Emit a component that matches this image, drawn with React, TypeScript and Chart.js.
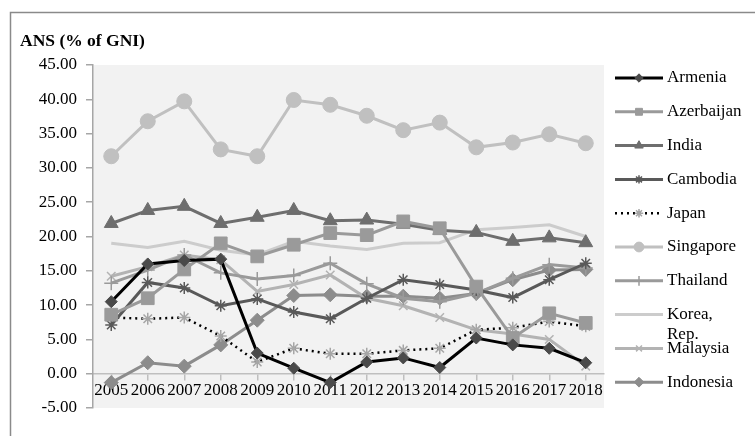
import React, { useEffect, useRef } from "react";
import { Chart, registerables } from "chart.js";
import { drawPoint } from "chart.js/helpers";

Chart.register(...registerables);

const years = ["2005","2006","2007","2008","2009","2010","2011","2012","2013","2014","2015","2016","2017","2018"];
const armenia = [10.5, 16.0, 16.5, 16.7, 3.0, 0.8, -1.3, 1.7, 2.3, 0.9, 5.2, 4.2, 3.7, 1.6];
const azerbaijan = [8.6, 11.0, 15.2, 19.0, 17.1, 18.8, 20.5, 20.2, 22.2, 21.2, 12.7, 5.2, 8.8, 7.4];
const india = [21.9, 23.8, 24.4, 21.9, 22.8, 23.8, 22.3, 22.4, 21.8, 20.9, 20.6, 19.3, 19.8, 19.1];
const cambodia = [7.1, 13.3, 12.5, 9.9, 10.9, 9.0, 8.0, 11.0, 13.7, 13.0, 12.2, 11.1, 13.7, 16.1];
const japan = [8.2, 8.0, 8.2, 5.5, 1.7, 3.7, 2.9, 2.9, 3.4, 3.7, 6.4, 6.7, 7.6, 6.9];
const singapore = [31.7, 36.8, 39.7, 32.7, 31.7, 39.9, 39.2, 37.6, 35.5, 36.6, 33.0, 33.7, 34.9, 33.6];
const thailand = [13.2, 15.1, 17.3, 14.7, 13.8, 14.3, 16.1, 13.1, 11.0, 10.5, 11.7, 13.9, 15.9, 15.4];
const korea = [19.0, 18.4, 19.3, 18.0, 17.3, 19.3, 18.6, 18.1, 19.0, 19.1, 21.0, 21.3, 21.7, 20.0];
const malaysia = [14.2, 15.6, 17.3, 16.6, 12.0, 13.0, 14.4, 11.0, 9.9, 8.2, 6.4, 5.8, 5.0, 1.1];
const indonesia = [-1.3, 1.6, 1.1, 4.2, 7.8, 11.4, 11.5, 11.3, 11.3, 11.0, 11.7, 13.7, 15.1, 15.2];

const yTicks = [-5, 0, 5, 10, 15, 20, 25, 30, 35, 40, 45];
const chartTitle = "ANS (% of GNI)";

const FONT = "'Liberation Serif', 'Times New Roman', serif";

type S = {
  label: string | string[];
  data: number[];
  color: string;
  width: number;
  dash?: number[];
  point: any;
  radius: number;
  pointColor: string;
  pointBorderWidth?: number;
};

const series: S[] = [
  { label: "Armenia", data: armenia, color: "#000000", width: 3, point: "rectRot", radius: 6, pointColor: "#4a4a4a" },
  { label: "Azerbaijan", data: azerbaijan, color: "#9a9a9a", width: 3, point: "rect", radius: 9, pointColor: "#9a9a9a" },
  { label: "India", data: india, color: "#6e6e6e", width: 3, point: "triangle", radius: 8, pointColor: "#6e6e6e" },
  { label: "Cambodia", data: cambodia, color: "#595959", width: 3, point: "star", radius: 6, pointColor: "#595959", pointBorderWidth: 1.5 },
  { label: "Japan", data: japan, color: "#000000", width: 2.5, dash: [2, 4], point: "star", radius: 6, pointColor: "#a6a6a6", pointBorderWidth: 1.5 },
  { label: "Singapore", data: singapore, color: "#c0c0c0", width: 3, point: "circle", radius: 7.5, pointColor: "#c0c0c0" },
  { label: "Thailand", data: thailand, color: "#9a9a9a", width: 3, point: "cross", radius: 7, pointColor: "#9a9a9a", pointBorderWidth: 1.5 },
  { label: ["Korea,", "Rep."], data: korea, color: "#cccccc", width: 3, point: false, radius: 0, pointColor: "#cccccc" },
  { label: "Malaysia", data: malaysia, color: "#b3b3b3", width: 3, point: "crossRot", radius: 6, pointColor: "#b3b3b3", pointBorderWidth: 1.5 },
  { label: "Indonesia", data: indonesia, color: "#8c8c8c", width: 3, point: "rectRot", radius: 7, pointColor: "#8c8c8c" },
];

const decorPlugin = {
  id: "decor",
  beforeDraw(chart: any) {
    const { ctx, chartArea, width, height } = chart;
    ctx.save();
    ctx.fillStyle = "#ffffff";
    ctx.fillRect(0, 0, width, height);
    ctx.strokeStyle = "#8a8a8a";
    ctx.lineWidth = 1.5;
    ctx.beginPath();
    ctx.moveTo(10.5, height);
    ctx.lineTo(10.5, 12.5);
    ctx.lineTo(width, 12.5);
    ctx.stroke();
    ctx.fillStyle = "#f2f2f2";
    ctx.fillRect(chartArea.left, chartArea.top, chartArea.right - chartArea.left, chartArea.bottom - chartArea.top);
    ctx.fillStyle = "#000";
    ctx.font = `bold 17.5px ${FONT}`;
    ctx.textBaseline = "middle";
    ctx.textAlign = "left";
    ctx.fillText(chartTitle, 20, 41);
    ctx.restore();
  },
  afterDraw(chart: any) {
    const { ctx, chartArea } = chart;
    ctx.save();
    const x0 = chartArea.right + 11;
    const x1 = x0 + 48;
    const top = chartArea.top + 13;
    const step = 33.8;
    chart.data.datasets.forEach((ds: any, i: number) => {
      const y = top + i * step;
      ctx.strokeStyle = ds.borderColor;
      ctx.lineWidth = ds.borderWidth;
      ctx.setLineDash(ds.borderDash || []);
      ctx.beginPath();
      ctx.moveTo(x0, y);
      ctx.lineTo(x1, y);
      ctx.stroke();
      ctx.setLineDash([]);
      if (ds.pointStyle) {
        const r = Math.min(ds.pointRadius, 7) * 0.7;
        ctx.fillStyle = ds.pointBackgroundColor;
        ctx.strokeStyle = ds.pointBorderColor;
        ctx.lineWidth = ds.pointBorderWidth || 1;
        drawPoint(ctx, { pointStyle: ds.pointStyle, radius: r, borderWidth: ctx.lineWidth, rotation: 0 } as any, (x0 + x1) / 2, y);
      }
      ctx.fillStyle = "#000";
      ctx.font = `17px ${FONT}`;
      ctx.textBaseline = "middle";
      ctx.textAlign = "left";
      const lbl = Array.isArray(ds.label0) ? ds.label0 : [ds.label0];
      lbl.forEach((t: string, k: number) => ctx.fillText(t, x1 + 4, y + k * 20));
    });
    ctx.restore();
  },
};

export default function App() {
  const ref = useRef<HTMLCanvasElement>(null);
  useEffect(() => {
    if (!ref.current) return;
    const chart = new Chart(ref.current, {
      type: "line",
      data: {
        labels: years,
        datasets: series.map((s) => ({
          label: Array.isArray(s.label) ? s.label.join(" ") : s.label,
          label0: s.label,
          data: s.data,
          borderColor: s.color,
          borderWidth: s.width,
          borderDash: s.dash || [],
          pointStyle: s.point,
          pointRadius: s.radius,
          pointBackgroundColor: s.pointColor,
          pointBorderColor: s.pointColor,
          pointBorderWidth: s.pointBorderWidth || 1,
          tension: 0,
          fill: false,
        })) as any,
      },
      options: {
        animation: false,
        responsive: false,
        layout: { padding: { left: 0, top: 65, right: 151, bottom: 28 } },
        plugins: { legend: { display: false }, tooltip: { enabled: false } },
        scales: {
          x: {
            type: "category",
            position: { y: 0 } as any,
            offset: true,
            grid: { display: true, drawOnChartArea: false, offset: false, tickLength: 6, color: "#bfbfbf", lineWidth: 1.5 },
            border: { display: true, color: "#bfbfbf", width: 1.5 },
            ticks: { color: "#000", font: { family: FONT, size: 17 }, padding: 1, maxRotation: 0, autoSkip: false },
          },
          y: {
            min: -5,
            max: 45,
            afterFit: (scale: any) => { scale.width = 93; },
            afterBuildTicks: (scale: any) => { scale.ticks = yTicks.map((v) => ({ value: v })); },
            grid: { display: true, drawOnChartArea: false, tickLength: 7, color: "#a6a6a6", lineWidth: 1.5 },
            border: { display: true, color: "#a6a6a6", width: 1.5 },
            ticks: { color: "#000", font: { family: FONT, size: 17 }, padding: 9, callback: (v: any) => Number(v).toFixed(2) },
          },
        },
      },
      plugins: [decorPlugin],
    });
    return () => chart.destroy();
  }, []);
  return (
    <div style={{ position: "absolute", left: 0, top: 0, width: 755, height: 436 }}>
      <canvas ref={ref} width={755} height={436} style={{ width: 755, height: 436 }} />
    </div>
  );
}
